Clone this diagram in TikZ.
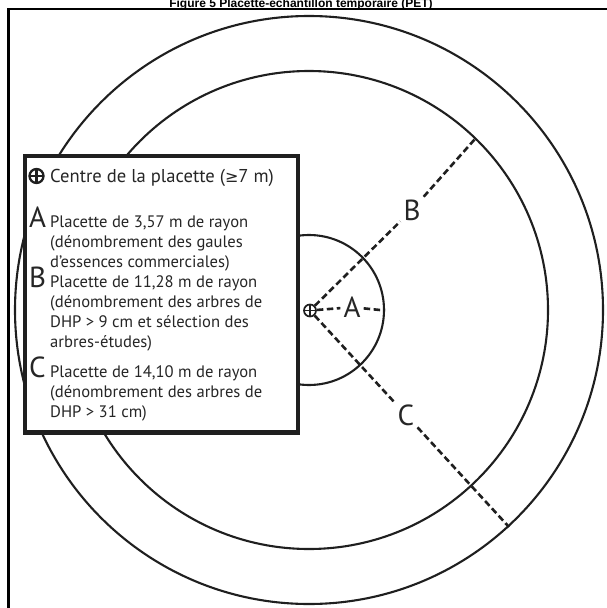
\documentclass[tikz,border=0pt]{standalone}
\usepackage{fontspec}
\setmainfont{PT Sans}
\newfontfamily\titlefont{Liberation Sans}
\newfontfamily\symfont{DejaVu Sans}
\begin{document}
\begin{tikzpicture}[x=1pt,y=-1pt,
  circ/.style={draw=black!88, line width=2.1pt},
  dl/.style={draw=black!88, line width=2.6pt, dash pattern=on 6.5pt off 3.5pt},
  legbox/.style={draw=black!88, line width=4.8pt, fill=white},
  leg/.style={anchor=base west, inner sep=0pt, font=\fontsize{16.6}{20}\selectfont, text=black!85},
  legbig/.style={anchor=base west, inner sep=0pt, font=\fontsize{29}{30}\selectfont, text=black!85},
  lbl/.style={anchor=base, inner sep=3pt, font=\fontsize{29}{30}\selectfont, text=black!85},
  plusmark/.style 2 args={circle, draw=black!88, line width=#2, minimum size=#1, inner sep=0pt,
    path picture={\draw[black!88, line width=#2] (path picture bounding box.north) -- (path picture bounding box.south)
      (path picture bounding box.west) -- (path picture bounding box.east);}}
]
\useasboundingbox (0,0) rectangle (606,608);
% title
\node[font=\titlefont\bfseries\fontsize{12}{12}\selectfont, anchor=base, inner sep=0pt] (title) at (301,7.4) {Figure 5 Placette-échantillon temporaire (PET)};
% frame
\draw[line width=2.5pt, draw=black] (8.7,9.2) rectangle (640,640);
% circles
\coordinate (cen) at (309,310);
\draw[circ] (cen) circle[radius=294];
\draw[circ] (cen) circle[radius=239];
\draw[circ] (cen) circle[radius=75];
% centre mark
\node[plusmark={12pt}{1.7pt}, fill=white] (cm) at (310,310.5) {};
% radii
\coordinate (aend) at (385,310.5);
\coordinate (bend) at (475,139);
\coordinate (cend) at (509,527);
\node[lbl] (la) at (352,317.5) {A};
\node[lbl] (lb) at (412,220) {B};
\node[lbl] (lc) at (406,425) {C};
\draw[dl] (cm) -- (la) -- (aend);
\draw[dl] (cm) -- (lb) -- (bend);
\draw[dl] (cm) -- (lc) -- (cend);
% legend box
\node[legbox, minimum width=273pt, minimum height=276.5pt, inner sep=0pt, anchor=north west] (box) at (22.5,153.5) {};
\node[plusmark={14pt}{2.3pt}] (lcm) at (36.5,176) {};
\node[leg, font=\fontsize{18.6}{20}\selectfont] (t0) at (50,182.5) {Centre de la placette ({\symfont\fontsize{16}{20}\selectfont ≥}7 m)};
\node[legbig] (bA) at (29,227) {A};
\node[leg] (a1) at (50,227) {Placette de 3,57 m de rayon};
\node[leg] (a2) at (50,247) {(dénombrement des gaules};
\node[leg] (a3) at (50,267) {d’essences commerciales)};
\node[legbig] (bB) at (29,287) {B};
\node[leg] (b1) at (50,287) {Placette de 11,28 m de rayon};
\node[leg] (b2) at (50,307) {(dénombrement des arbres de};
\node[leg] (b3) at (50,327) {DHP > 9 cm et sélection des};
\node[leg] (b4) at (50,347) {arbres-études)};
\node[legbig] (bC) at (29,377) {C};
\node[leg] (c1) at (50,377) {Placette de 14,10 m de rayon};
\node[leg] (c2) at (50,397) {(dénombrement des arbres de};
\node[leg] (c3) at (50,417) {DHP > 31 cm)};
\end{tikzpicture}
\end{document}
